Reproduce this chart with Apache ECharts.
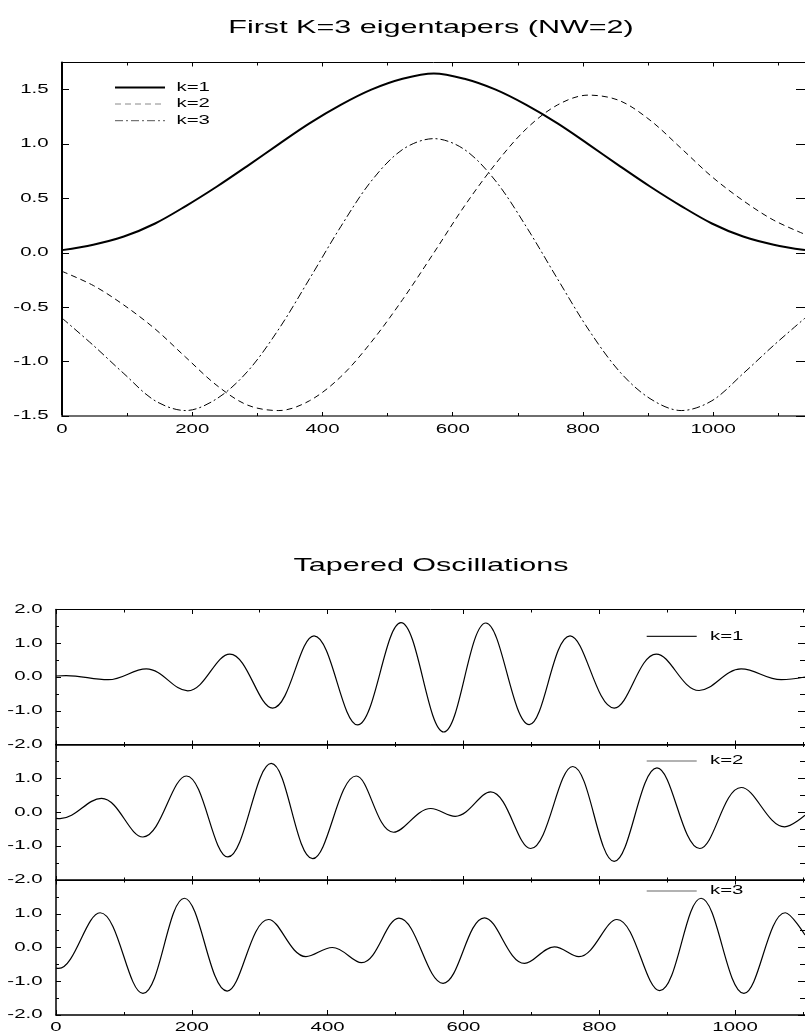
<!DOCTYPE html>
<html><head><meta charset="utf-8">
<script src="https://cdn.jsdelivr.net/npm/echarts@6/dist/echarts.min.js"></script>
<style>html,body{margin:0;padding:0;background:#fff}#c{width:805px;height:1036px}</style>
</head><body><div id="c"></div>
<script>
// ---------------- data ----------------
const topTitle = 'First K=3 eigentapers (NW=2)';
const bottomTitle = 'Tapered Oscillations';
const seriesNames = ['k=1', 'k=2', 'k=3'];

// eigentapers
const taperX  = [0, 48, 95, 143, 190, 238, 285, 333, 380, 428, 475, 523, 571, 618, 666, 713, 761, 808, 856, 903, 951, 998, 1046, 1093, 1141];
const taperK1 = [0.025, 0.075, 0.15, 0.27, 0.43, 0.61, 0.80, 1.00, 1.19, 1.36, 1.50, 1.60, 1.65, 1.60, 1.50, 1.36, 1.19, 1.00, 0.80, 0.61, 0.43, 0.27, 0.15, 0.075, 0.025];
const taperK2 = [-0.17, -0.30, -0.48, -0.70, -0.96, -1.22, -1.40, -1.45, -1.36, -1.14, -0.82, -0.43, 0.0, 0.43, 0.82, 1.14, 1.36, 1.45, 1.40, 1.22, 0.96, 0.70, 0.48, 0.30, 0.17];
const taperK3 = [-0.60, -0.85, -1.11, -1.36, -1.45, -1.34, -1.09, -0.70, -0.24, 0.24, 0.66, 0.95, 1.05, 0.95, 0.66, 0.24, -0.24, -0.70, -1.09, -1.34, -1.45, -1.36, -1.11, -0.85, -0.60];

// tapered oscillations (peaks / troughs)
const oscK1X = [0, 15, 77, 133, 194, 256, 319, 380, 444, 508, 571, 633, 697, 757, 822, 884, 947, 1009, 1068, 1103];
const oscK1Y = [0.03, 0.04, -0.08, 0.24, -0.41, 0.68, -0.92, 1.22, -1.42, 1.61, -1.63, 1.60, -1.41, 1.22, -0.92, 0.68, -0.40, 0.24, -0.08, 0.0];
const oscK2X = [0, 6, 67, 128, 192, 253, 317, 378, 442, 497, 552, 588, 640, 699, 761, 822, 885, 948, 1009, 1073, 1103];
const oscK2Y = [-0.18, -0.19, 0.41, -0.73, 1.07, -1.32, 1.44, -1.37, 1.07, -0.59, 0.11, -0.12, 0.60, -1.07, 1.35, -1.45, 1.31, -1.07, 0.73, -0.43, -0.09];
const oscK3X = [0, 4, 65, 128, 189, 252, 313, 368, 407, 450, 505, 570, 631, 690, 734, 770, 826, 889, 950, 1013, 1074, 1103];
const oscK3Y = [-0.61, -0.62, 1.03, -1.36, 1.46, -1.29, 0.83, -0.27, 0.0, -0.45, 0.87, -1.06, 0.88, -0.47, 0.02, -0.27, 0.83, -1.28, 1.46, -1.36, 1.03, 0.37];

// tick labels
const topXTicks = [0, 200, 400, 600, 800, 1000];
const topYTicks = [-1.5, -1.0, -0.5, 0.0, 0.5, 1.0, 1.5];
const botXTicks = [0, 200, 400, 600, 800, 1000];
const botYTicksFirst = [2.0, 1.0, 0.0, -1.0, -2.0];
const botYTicksOther = [1.0, 0.0, -1.0, -2.0];

// ---------------- chart ----------------
const TOPX_MAX = 1141, BOTX_MAX = 1103;
const FONT = '"Liberation Sans", Arial, Helvetica, sans-serif';
const chart = echarts.init(document.getElementById('c'), null, {renderer: 'canvas', width: 805, height: 1036});

const grids = [
  {left: 62, top: 62.5, width: 746, height: 353.5},
  {left: 56, top: 609.5, width: 751, height: 135},
  {left: 56, top: 744.5, width: 751, height: 135.5},
  {left: 56, top: 880, width: 751, height: 135}
];

function xAx(gi, pos, max, o) {
  return {
    type: 'value', gridIndex: gi, position: pos, min: 0, max: max, interval: 200,
    axisLine: {show: true, onZero: false, lineStyle: {color: o.color || '#000', width: o.width || 1}},
    axisTick: {show: true, inside: true, length: o.tick || 4, lineStyle: {color: '#000', width: 1}},
    minorTick: {show: true, splitNumber: 2, length: o.minor || 3, lineStyle: {color: '#000', width: 1}},
    axisLabel: {show: false}, splitLine: {show: false}, minorSplitLine: {show: false}
  };
}
function yAx(gi, pos, min, max, interval, o) {
  return {
    type: 'value', gridIndex: gi, position: pos, min: min, max: max, interval: interval,
    axisLine: {show: true, onZero: false, lineStyle: {color: '#000', width: o.width || 1}},
    axisTick: {show: true, inside: true, length: o.tick || 5, lineStyle: {color: '#000', width: 1}},
    minorTick: {show: !!o.minor, splitNumber: 2, length: o.minor || 3, lineStyle: {color: '#000', width: 1}},
    axisLabel: {show: false}, splitLine: {show: false}, minorSplitLine: {show: false}
  };
}

const xAxes = [
  xAx(0, 'bottom', TOPX_MAX, {color: '#6e6e6e', width: 2, tick: 4, minor: 3}),
  xAx(0, 'top', TOPX_MAX, {width: 1, tick: 4, minor: 3}),
  xAx(1, 'bottom', BOTX_MAX, {width: 1.5, tick: 4, minor: 2.5}),
  xAx(1, 'top', BOTX_MAX, {width: 1, tick: 4.5, minor: 3}),
  xAx(2, 'bottom', BOTX_MAX, {width: 1.5, tick: 4, minor: 2.5}),
  xAx(2, 'top', BOTX_MAX, {width: 1, tick: 4.5, minor: 2.5}),
  xAx(3, 'bottom', BOTX_MAX, {width: 1.5, tick: 5, minor: 3}),
  xAx(3, 'top', BOTX_MAX, {width: 1, tick: 4.5, minor: 2.5})
];
const yAxes = [
  yAx(0, 'left', -1.5, 1.75, 0.5, {width: 2, tick: 7}),
  yAx(0, 'right', -1.5, 1.75, 0.5, {width: 1, tick: 9}),
  yAx(1, 'left', -2, 2, 1, {width: 1.5, tick: 5, minor: 3}),
  yAx(1, 'right', -2, 2, 1, {width: 1, tick: 7, minor: 5}),
  yAx(2, 'left', -2, 2, 1, {width: 1.5, tick: 5, minor: 3}),
  yAx(2, 'right', -2, 2, 1, {width: 1, tick: 7, minor: 5}),
  yAx(3, 'left', -2, 2, 1, {width: 1.5, tick: 5, minor: 3}),
  yAx(3, 'right', -2, 2, 1, {width: 1, tick: 7, minor: 5})
];

function pairs(xs, ys) { return xs.map((x, i) => [x, ys[i]]); }
function ser(name, xi, yi, data, smooth, lineStyle) {
  return {name: name, type: 'line', xAxisIndex: xi, yAxisIndex: yi, data: data, symbol: 'none',
    showSymbol: false, smooth: smooth, lineStyle: lineStyle, silent: true, clip: true};
}

const option = {
  animation: false,
  backgroundColor: '#fff',
  grid: grids,
  xAxis: xAxes,
  yAxis: yAxes,
  series: [
    ser(seriesNames[0], 0, 0, pairs(taperX, taperK1), 0.33, {color: '#000', width: 2}),
    ser(seriesNames[1], 0, 0, pairs(taperX, taperK2), 0.33, {color: '#000', width: 1, type: [6, 4]}),
    ser(seriesNames[2], 0, 0, pairs(taperX, taperK3), 0.33, {color: '#000', width: 1, type: [8, 3, 2, 3]}),
    ser(seriesNames[0], 2, 2, pairs(oscK1X, oscK1Y), 0.38, {color: '#000', width: 1.2}),
    ser(seriesNames[1], 4, 4, pairs(oscK2X, oscK2Y), 0.38, {color: '#000', width: 1.2}),
    ser(seriesNames[2], 6, 6, pairs(oscK3X, oscK3Y), 0.38, {color: '#000', width: 1.2})
  ]
};
chart.setOption(option);

// ---------------- texts (horizontally stretched like the reference) ----------------
const SX = 1.7;
function txt(text, x, y, align, size, sx) {
  return {type: 'text', x: x, y: y, scaleX: sx || SX, z: 100, silent: true,
    style: {text: text, fill: '#000', font: (size || 12) + 'px ' + FONT, align: align, verticalAlign: 'middle'}};
}
function ln(x1, y1, x2, y2, stroke, w, dash) {
  return {type: 'line', z: 100, silent: true, shape: {x1: x1, y1: y1, x2: x2, y2: y2},
    style: {stroke: stroke, lineWidth: w, lineDash: dash || null}};
}
const fmt = v => v.toFixed(1);
const g = [];
// titles
g.push(txt(topTitle, 431, 27.5, 'center', 18.5, 1.65));
g.push(txt(bottomTitle, 431, 566, 'center', 18.5, 1.65));
// top plot labels
topYTicks.forEach(v => { const p = chart.convertToPixel({gridIndex: 0}, [0, v]); g.push(txt(fmt(v), p[0] - 13.5, p[1], 'right')); });
topXTicks.forEach(v => { const p = chart.convertToPixel({gridIndex: 0}, [v, -1.5]); g.push(txt(String(v), p[0], p[1] + 14, 'center')); });
// bottom plot labels
[1, 2, 3].forEach(gi => {
  const ticks = gi === 1 ? botYTicksFirst : botYTicksOther;
  ticks.forEach(v => { const p = chart.convertToPixel({gridIndex: gi}, [0, v]); g.push(txt(fmt(v), p[0] - 13.5, p[1], 'right')); });
});
botXTicks.forEach(v => { const p = chart.convertToPixel({gridIndex: 3}, [v, -2]); g.push(txt(String(v), p[0], p[1] + 12.5, 'center')); });
// top legend
const topLegY = [87.5, 104, 120.7];
g.push(ln(115, topLegY[0], 165, topLegY[0], '#000', 2));
g.push(ln(115, topLegY[1], 165, topLegY[1], '#888', 1, [6, 4]));
g.push(ln(115, topLegY[2], 165, topLegY[2], '#555', 1, [8, 3, 2, 3]));
seriesNames.forEach((n, i) => g.push(txt(n, 176.5, topLegY[i], 'left')));
// bottom legends
const botLegY = [636.3, 761, 891];
botLegY.forEach((y, i) => {
  g.push(ln(646.7, y, 696.7, y, i === 0 ? '#222' : '#999', 1.3));
  g.push(txt(seriesNames[i], 710, y, 'left'));
});
chart.setOption({graphic: g});
</script>
</body></html>
